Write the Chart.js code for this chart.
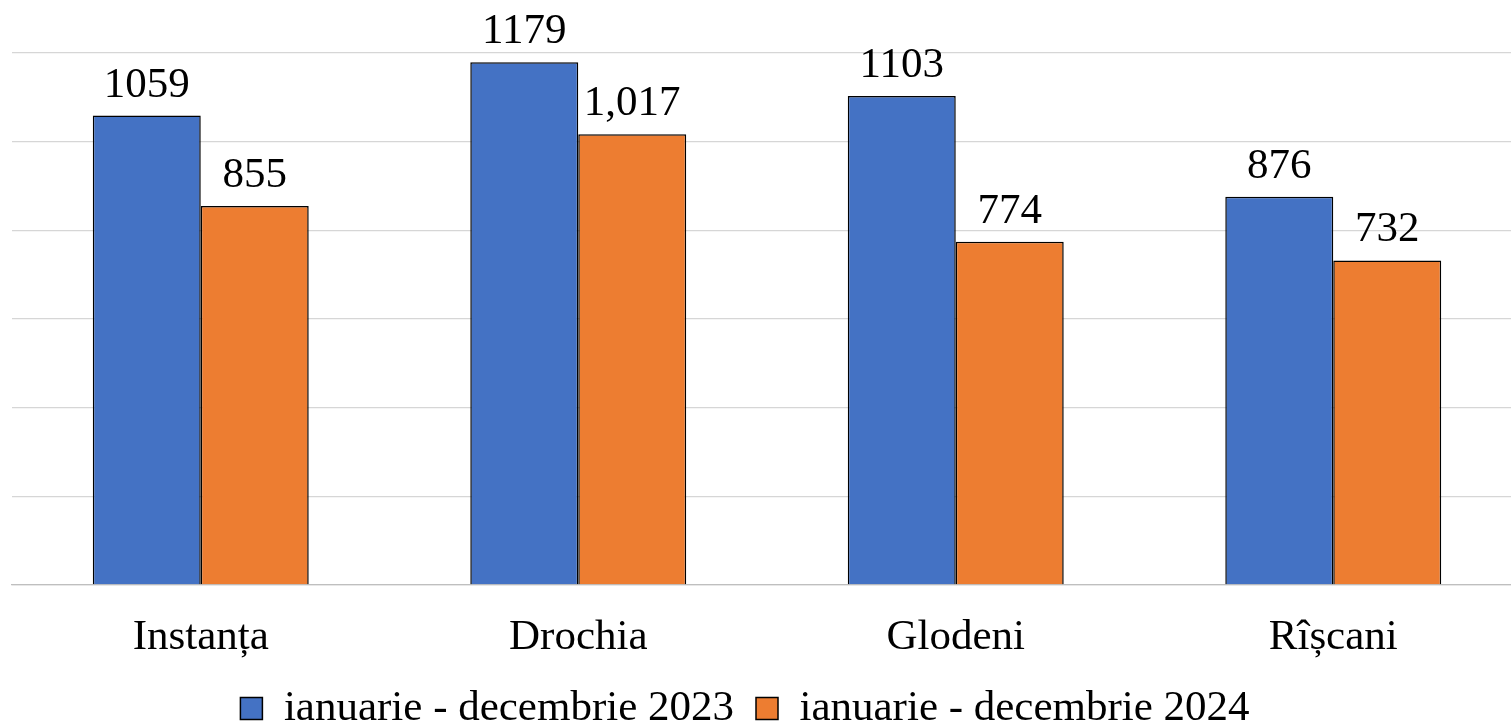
<!DOCTYPE html>
<html>
<head>
<meta charset="utf-8">
<script src="https://cdn.jsdelivr.net/npm/chart.js@4/dist/chart.umd.min.js"></script>
<style>
  html, body { margin: 0; padding: 0; background: #fff; overflow: hidden; }
  #wrap { position: absolute; left: -32px; top: 0; width: 1554px; height: 740px; }
</style>
</head>
<body>
<div id="wrap"><canvas id="chart"></canvas></div>
<script>
  const categories = ['Instanța', 'Drochia', 'Glodeni', 'Rîșcani'];
  const seriesNames = ['ianuarie - decembrie 2023', 'ianuarie - decembrie 2024'];
  const values2023 = [1059, 1179, 1103, 876];
  const values2024 = [855, 1017, 774, 732];
  const labels2023 = ['1059', '1179', '1103', '876'];
  const labels2024 = ['855', '1,017', '774', '732'];

  const FONT = '"Liberation Serif", "DejaVu Serif", serif';

  // draw the value labels above each bar
  const valueLabels = {
    id: 'valueLabels',
    afterDatasetsDraw(chart) {
      const ctx = chart.ctx;
      const texts = [labels2023, labels2024];
      ctx.save();
      ctx.font = '43px ' + FONT;
      ctx.fillStyle = '#000';
      ctx.textAlign = 'center';
      ctx.textBaseline = 'alphabetic';
      chart.data.datasets.forEach((ds, di) => {
        chart.getDatasetMeta(di).data.forEach((bar, i) => {
          ctx.fillText(texts[di][i], bar.x, bar.y - 19);
        });
      });
      ctx.restore();
    }
  };

  new Chart(document.getElementById('chart'), {
    type: 'bar',
    data: {
      labels: categories,
      datasets: [
        { label: seriesNames[0], data: values2023, backgroundColor: '#4472C4', borderColor: '#000', borderWidth: 1.5 },
        { label: seriesNames[1], data: values2024, backgroundColor: '#ED7D31', borderColor: '#000', borderWidth: 1.5 }
      ]
    },
    options: {
      responsive: true,
      maintainAspectRatio: false,
      animation: false,
      datasets: { bar: { categoryPercentage: 0.572, barPercentage: 1.0 } },
      layout: { padding: { left: 0, right: 0, top: 53, bottom: 0 } },
      scales: {
        x: {
          grid: { display: false },
          border: { display: true, color: '#bfbfbf', width: 1.3 },
          ticks: { color: '#000', font: { family: FONT, size: 43 }, padding: 19 },
          // shorter axis box, leaves room for a wider legend padding
          afterFit(scale) { scale.height = 80; }
        },
        y: {
          min: 0, max: 1200,
          ticks: { display: false, stepSize: 200 },
          grid: { color: '#d6d6d6', lineWidth: 1.3, drawTicks: false },
          border: { display: false },
          afterFit(scale) { scale.width = 44; }
        }
      },
      plugins: {
        tooltip: { enabled: false },
        legend: {
          position: 'bottom',
          labels: {
            color: '#000',
            font: { family: FONT, size: 43 },
            boxWidth: 22,
            boxHeight: 22,
            padding: 22,
            generateLabels(chart) {
              return chart.data.datasets.map((ds, i) => ({
                text: ds.label,
                fillStyle: ds.backgroundColor,
                strokeStyle: '#000',
                lineWidth: 1.5,
                datasetIndex: i
              }));
            }
          }
        }
      }
    },
    plugins: [valueLabels]
  });
</script>
</body>
</html>
